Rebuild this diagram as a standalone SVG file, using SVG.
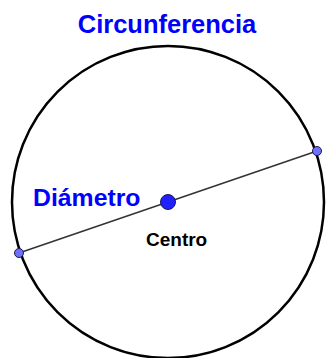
<svg xmlns="http://www.w3.org/2000/svg" width="327" height="358" viewBox="0 0 327 358">
<style>
.lbl{font-family:"Liberation Sans",Arial,sans-serif;font-weight:bold}
.blue{fill:#0000ff}
.pt{stroke:#1a1a4d;stroke-width:1}
</style>
<rect width="327" height="358" fill="#ffffff"/>
<g id="circle"><circle cx="168" cy="202" r="156" fill="none" stroke="#000" stroke-width="2.5"/></g>
<g id="connectors"><line x1="19" y1="253" x2="317" y2="151" stroke="#333" stroke-width="1.5"/></g>
<g id="title"><text class="lbl blue" x="167" y="33" font-size="25.5" text-anchor="middle">Circunferencia</text></g>
<g id="diametro"><text class="lbl blue" x="33" y="206" font-size="24.8">Diámetro</text></g>
<g id="centro-label"><text class="lbl" x="146" y="246" font-size="19" fill="#000">Centro</text></g>
<g id="centro"><circle class="pt" cx="168" cy="202" r="7.5" fill="#2020ff"/></g>
<g id="pA"><circle class="pt" cx="19" cy="253" r="4.5" fill="#7070ff"/></g>
<g id="pB"><circle class="pt" cx="317" cy="151" r="4.5" fill="#7070ff"/></g>
</svg>
